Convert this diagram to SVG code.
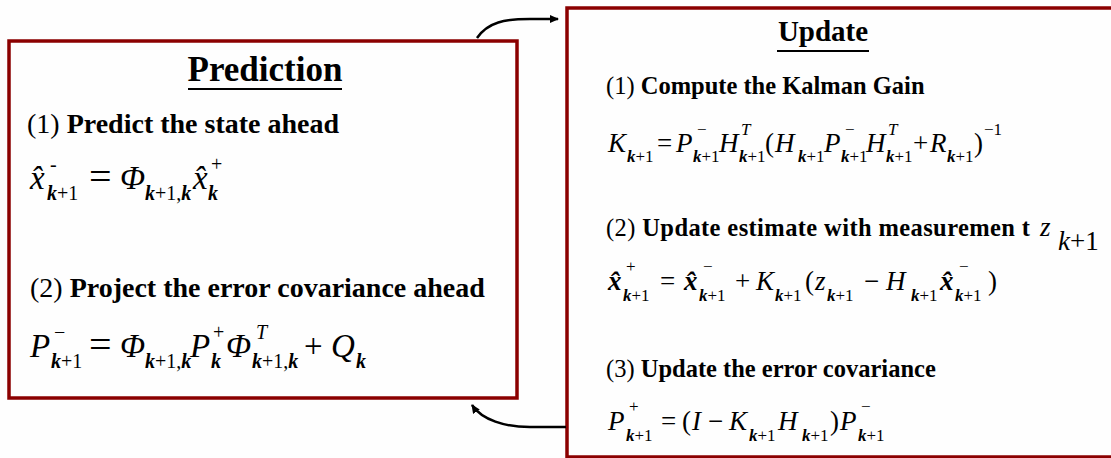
<svg xmlns="http://www.w3.org/2000/svg" width="1111" height="458" viewBox="0 0 1111 458">
<style>
text{font-family:"Liberation Serif","Times New Roman",serif;fill:#000}
.box{fill:#fefefe;stroke:#8b0000;stroke-width:3.5}
.ul{stroke:#000;stroke-width:2}
.b{font-weight:bold}
.m{font-size:33px;font-style:italic}
.n{font-size:27px;font-style:italic}
.s{font-size:20px}
.t{font-size:17px}
.k{font-weight:bold;font-style:italic}
.r{font-style:normal}
.bx{font-weight:bold;font-style:italic}
.it{font-style:italic}
.con{fill:none;stroke:#000;stroke-width:2.5}
</style>
<defs>
<marker id="ah" markerWidth="10" markerHeight="10" refX="8" refY="5" orient="auto" markerUnits="userSpaceOnUse">
<path d="M0,1 L9,5 L0,9 Z" fill="#000"/>
</marker>
</defs>
<rect width="1111" height="458" fill="#fefefe"/>

<g id="prediction">
<rect class="box" x="9" y="41" width="508" height="357"/>
<text x="265" y="81" font-size="35" class="b" text-anchor="middle">Prediction</text>
<line class="ul" x1="188" y1="89" x2="342" y2="89"/>
<text x="27" y="133" font-size="28">(1) <tspan class="b">Predict the state ahead</tspan></text>
<text class="m" x="30" y="189">x̂</text>
<text class="s" x="50" y="171">-</text>
<text class="s" x="47" y="200"><tspan class="k">k</tspan>+1</text>
<text font-size="40" x="89" y="190">=</text>
<text class="m" x="120" y="189">Φ</text>
<text class="s" x="145" y="200"><tspan class="k">k</tspan>+1,<tspan class="k">k</tspan></text>
<text class="m" x="193" y="189">x̂</text>
<text class="s" x="211" y="171">+</text>
<text class="s" x="208" y="200"><tspan class="k">k</tspan></text>
<text x="30" y="297" font-size="28">(2) <tspan class="b">Project the error covariance ahead</tspan></text>
<text class="m" x="30" y="357">P</text>
<text class="s" x="54" y="339">−</text>
<text class="s" x="51" y="368"><tspan class="k">k</tspan>+1</text>
<text font-size="40" x="89" y="358">=</text>
<text class="m" x="120" y="357">Φ</text>
<text class="s" x="145" y="368"><tspan class="k">k</tspan>+1,<tspan class="k">k</tspan></text>
<text class="m" x="190" y="357">P</text>
<text class="s" x="213" y="339">+</text>
<text class="s" x="211" y="368"><tspan class="k">k</tspan></text>
<text class="m" x="226" y="357">Φ</text>
<text class="s it" x="256" y="339">T</text>
<text class="s" x="252" y="368"><tspan class="k">k</tspan>+1,<tspan class="k">k</tspan></text>
<text font-size="33" x="304" y="357">+</text>
<text class="m" x="331" y="357">Q</text>
<text class="s" x="356" y="368"><tspan class="k">k</tspan></text>
</g>

<g id="update">
<rect class="box" x="567" y="8" width="560" height="449"/>
<text x="823" y="41" font-size="29" class="b" text-anchor="middle">Update</text>
<line class="ul" x1="777" y1="51" x2="869" y2="51"/>
<text x="606" y="94" font-size="24.5">(1) <tspan class="b">Compute the Kalman Gain</tspan></text>
<text class="n" x="608" y="152">K</text>
<text class="t" x="627" y="162"><tspan class="k">k</tspan>+1</text>
<text class="n r" x="657" y="152">=</text>
<text class="n" x="676" y="152">P</text>
<text class="t" x="697" y="135">−</text>
<text class="t" x="693" y="162"><tspan class="k">k</tspan>+1</text>
<text class="n" x="719" y="152">H</text>
<text class="t it" x="741" y="135">T</text>
<text class="t" x="739" y="162"><tspan class="k">k</tspan>+1</text>
<text class="n r" x="765" y="152">(</text>
<text class="n" x="775" y="152">H</text>
<text class="t" x="798" y="162"><tspan class="k">k</tspan>+1</text>
<text class="n" x="824" y="152">P</text>
<text class="t" x="845" y="135">−</text>
<text class="t" x="841" y="162"><tspan class="k">k</tspan>+1</text>
<text class="n" x="866" y="152">H</text>
<text class="t it" x="888" y="135">T</text>
<text class="t" x="886" y="162"><tspan class="k">k</tspan>+1</text>
<text class="n r" x="913" y="152">+</text>
<text class="n" x="930" y="152">R</text>
<text class="t" x="947" y="162"><tspan class="k">k</tspan>+1</text>
<text class="n r" x="974" y="152">)</text>
<text class="t" x="984" y="135">−1</text>

<text x="606" y="236" font-size="24.5" textLength="424" lengthAdjust="spacing">(2) <tspan class="b">Update estimate with measuremen t</tspan></text>
<text font-size="27" font-style="italic" x="1040" y="236">z</text>
<text font-size="27" font-style="italic" x="1058" y="250">k<tspan font-style="normal">+1</tspan></text>

<text class="n bx" x="608" y="290">x̂</text>
<text class="t" x="626" y="272">+</text>
<text class="t" x="623" y="301"><tspan class="k">k</tspan>+1</text>
<text class="n r" x="660" y="290">=</text>
<text class="n bx" x="684" y="290">x̂</text>
<text class="t" x="703" y="272">−</text>
<text class="t" x="699" y="301"><tspan class="k">k</tspan>+1</text>
<text class="n r" x="735" y="290">+</text>
<text class="n" x="756" y="290">K</text>
<text class="t" x="775" y="301"><tspan class="k">k</tspan>+1</text>
<text class="n r" x="805" y="290">(</text>
<text class="n" x="815" y="290">z</text>
<text class="t" x="827" y="301"><tspan class="k">k</tspan>+1</text>
<text class="n r" x="864" y="290">−</text>
<text class="n" x="886" y="290">H</text>
<text class="t" x="911" y="301"><tspan class="k">k</tspan>+1</text>
<text class="n bx" x="940" y="290">x̂</text>
<text class="t" x="959" y="272">−</text>
<text class="t" x="955" y="301"><tspan class="k">k</tspan>+1</text>
<text class="n r" x="988" y="290">)</text>

<text x="606" y="377" font-size="24.5">(3) <tspan class="b">Update the error  covariance</tspan></text>
<text class="n" x="608" y="430">P</text>
<text class="t" x="629" y="412">+</text>
<text class="t" x="626" y="441"><tspan class="k">k</tspan>+1</text>
<text class="n r" x="661" y="430" fill="#666">=</text>
<text class="n r" x="682" y="430">(</text>
<text class="n" x="692" y="430">I</text>
<text class="n r" x="708" y="430">−</text>
<text class="n" x="729" y="430">K</text>
<text class="t" x="749" y="441"><tspan class="k">k</tspan>+1</text>
<text class="n" x="778" y="430">H</text>
<text class="t" x="802" y="441"><tspan class="k">k</tspan>+1</text>
<text class="n r" x="830" y="430">)</text>
<text class="n" x="840" y="430">P</text>
<text class="t" x="861" y="412">−</text>
<text class="t" x="858" y="441"><tspan class="k">k</tspan>+1</text>
</g>

<g id="connectors">
<path class="con" d="M477,38 C488,22 505,19 530,19 L558,19" marker-end="url(#ah)"/>
<path class="con" d="M566,427 L530,427 C505,427 482,420 472,405" marker-end="url(#ah)"/>
</g>
</svg>
